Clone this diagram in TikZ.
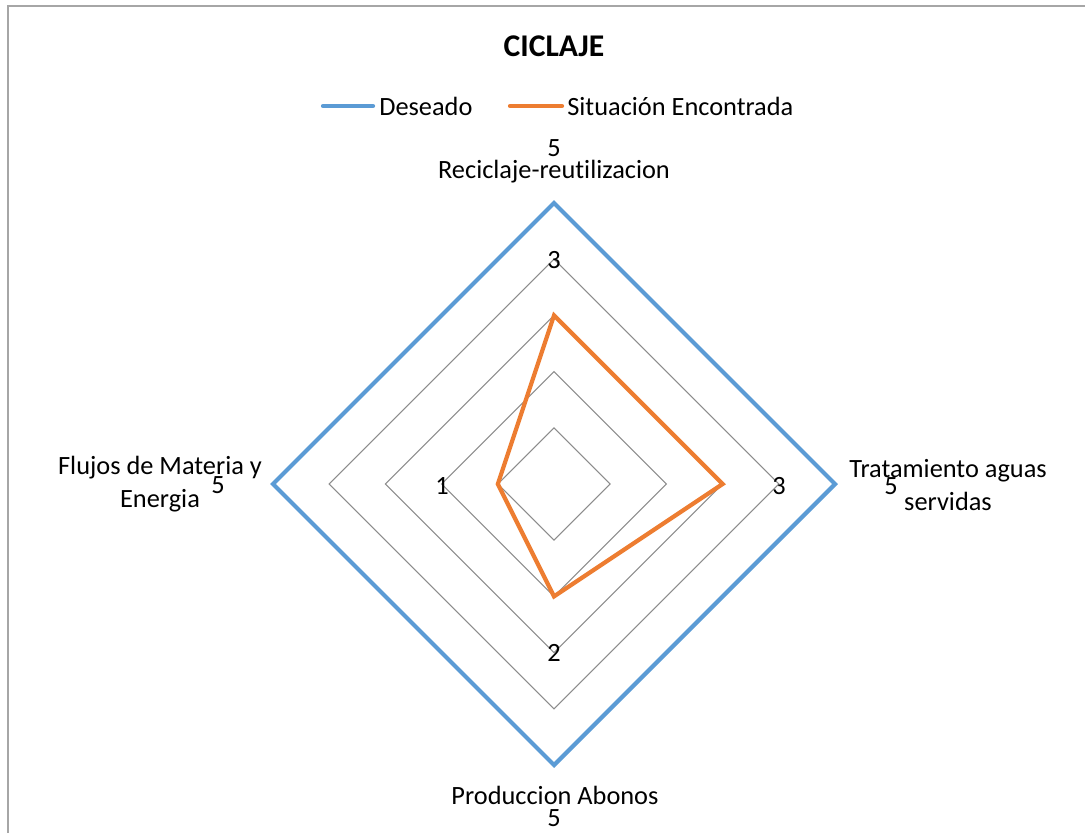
\documentclass[tikz,border=0pt]{standalone}
\usepackage{fontspec}
\setmainfont{Carlito}[Ligatures=NoCommon]
\definecolor{serblue}{HTML}{5B9BD5}
\definecolor{serorange}{HTML}{ED7D31}
\definecolor{gridgray}{HTML}{8C8C8C}
\definecolor{framegray}{HTML}{A6A6A6}
\begin{document}
\begin{tikzpicture}[x=0.02cm,y=-0.02cm,
  lbl/.style={inner sep=0pt,font=\fontsize{15}{18.5}\selectfont,align=center},
  ttl/.style={inner sep=0pt,font=\fontsize{18}{21}\selectfont\bfseries},
  gridline/.style={draw=gridgray,line width=0.6pt},
  blueline/.style={draw=serblue,line width=2.4pt},
  orangeline/.style={draw=serorange,line width=2.4pt},
  legline/.style={line width=2.4pt,line cap=round}]
\useasboundingbox (0,0) rectangle (1085,833);
\draw[framegray,line width=1.1pt] (8,833) -- (8,6) -- (1085,6);
% grid
\foreach \r in {56.2,112.4,168.6,224.8}{
  \draw[gridline] (554,484-\r) -- (554+\r,484) -- (554,484+\r) -- (554-\r,484) -- cycle;
}
% series points
\coordinate (b1) at (554,203);
\coordinate (b2) at (835,484);
\coordinate (b3) at (554,765);
\coordinate (b4) at (273,484);
\coordinate (o1) at (554,315.4);
\coordinate (o2) at (722.6,484);
\coordinate (o3) at (554,596.4);
\coordinate (o4) at (497.8,484);
\draw[blueline] (b1) -- (b2) -- (b3) -- (b4) -- cycle;
\draw[orangeline] (o1) -- (o2) -- (o3) -- (o4) -- cycle;
% title
\node[ttl] (title) at (554,46) {CICLAJE};
% legend
\coordinate (lb1) at (323,106);
\coordinate (lb2) at (373,106);
\coordinate (lo1) at (510,106);
\coordinate (lo2) at (562,106);
\draw[legline,serblue] (lb1) -- (lb2);
\draw[legline,serorange] (lo1) -- (lo2);
\node[lbl,anchor=west] (ldes) at (379,106) {Deseado};
\node[lbl,anchor=west] (lsit) at (567,106) {Situación Encontrada};
% category labels
\node[lbl] (cat1) at (554,172) {Reciclaje-reutilizacion};
\node[lbl] (cat2) at (948,485) {Tratamiento aguas\\servidas};
\node[lbl] (cat3) at (555,795) {Produccion Abonos};
\node[lbl] (cat4) at (160,484) {Flujos de Materia y\\Energia};
% data labels
\node[lbl] (v1) at (554,148) {5};
\node[lbl] (v2) at (891,486) {5};
\node[lbl] (v3) at (554,818) {5};
\node[lbl] (v4) at (218,485) {5};
\node[lbl] (w1) at (554,260) {3};
\node[lbl] (w2) at (779,486) {3};
\node[lbl] (w3) at (554,653) {2};
\node[lbl] (w4) at (442,486) {1};
\end{tikzpicture}
\end{document}
